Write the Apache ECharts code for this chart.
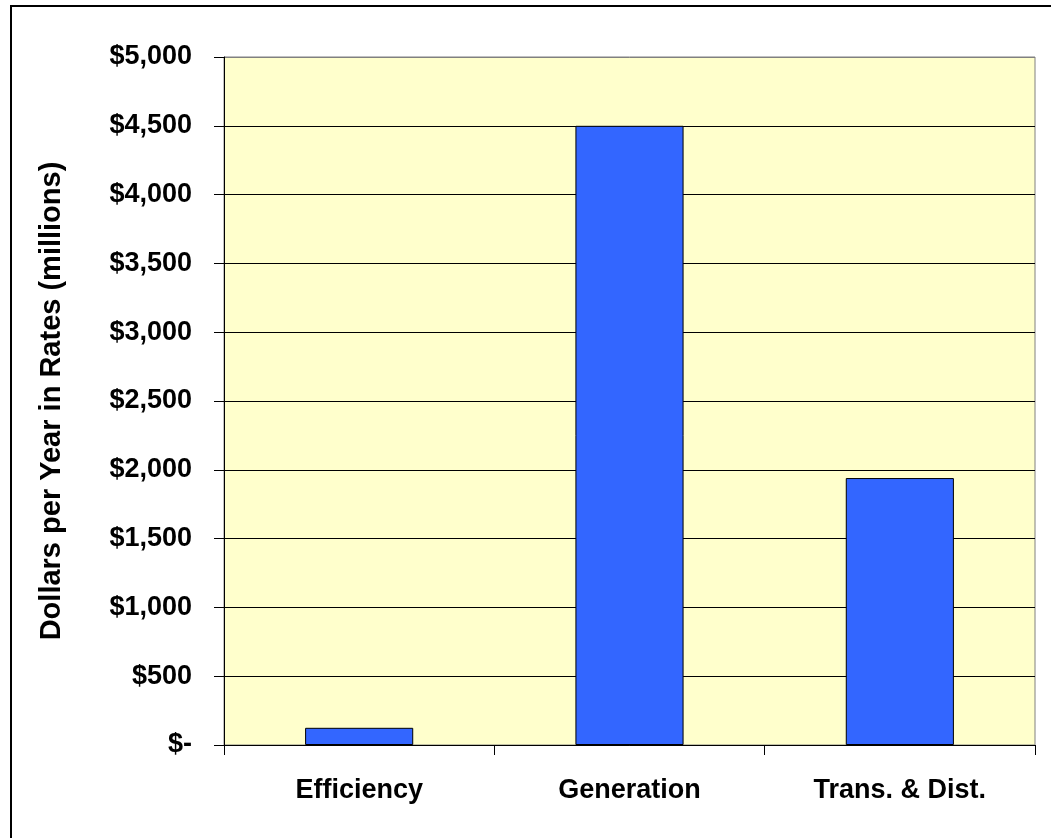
<!DOCTYPE html>
<html>
<head>
<meta charset="utf-8">
<script src="https://cdn.jsdelivr.net/npm/echarts@6/dist/echarts.min.js"></script>
<style>
  html, body { margin: 0; padding: 0; background: #ffffff; }
  #chart { width: 1051px; height: 838px; }
</style>
</head>
<body>
<div id="chart"></div>
<script>
// Annual rate dollars by spending area (millions)
const categories = ['Efficiency', 'Generation', 'Trans. & Dist.'];
const dollarsPerYear = [125, 4500, 1940];
const yAxisTitle = 'Dollars per Year in Rates (millions)';
const yMin = 0;
const yMax = 5000;
const yStep = 500;

const FONT = 'Arial, "Liberation Sans", sans-serif';

function moneyLabel(v) {
  if (v === 0) return '$-';
  return '$' + v.toLocaleString('en-US');
}

// Horizontal gridlines: black, with the top edge drawn in grey like the frame
const gridColors = [];
for (let v = yMin; v <= yMax; v += yStep) gridColors.push(v === yMax ? '#808080' : '#000000');

const chart = echarts.init(document.getElementById('chart'), null, { renderer: 'canvas' });

chart.setOption({
  backgroundColor: '#ffffff',
  animation: false,
  graphic: [{
    type: 'rect',
    z: -10,
    shape: { x: 11, y: 6, width: 1100, height: 900 },
    style: { fill: 'none', stroke: '#000000', lineWidth: 2 }
  }],
  grid: {
    left: 224, right: 16, top: 57, bottom: 93,
    show: true,
    backgroundColor: '#FFFFCC',
    borderColor: '#808080',
    borderWidth: 1,
    containLabel: false
  },
  xAxis: {
    type: 'category',
    data: categories,
    axisLine: { lineStyle: { color: '#000000', width: 1 } },
    axisTick: { show: true, inside: false, length: 10, alignWithLabel: false, lineStyle: { color: '#000000' } },
    axisLabel: {
      color: '#000000',
      fontFamily: FONT,
      fontWeight: 'bold',
      fontSize: 27,
      margin: 32
    },
    splitLine: { show: false }
  },
  yAxis: {
    type: 'value',
    min: yMin,
    max: yMax,
    interval: yStep,
    name: yAxisTitle,
    nameLocation: 'middle',
    nameGap: 158,
    nameRotate: 90,
    nameTextStyle: {
      color: '#000000',
      fontFamily: FONT,
      fontWeight: 'bold',
      fontSize: 29
    },
    axisLine: { show: true, lineStyle: { color: '#000000', width: 1 } },
    axisTick: { show: true, inside: false, length: 10, lineStyle: { color: '#000000' } },
    axisLabel: {
      color: '#000000',
      fontFamily: FONT,
      fontWeight: 'bold',
      fontSize: 27,
      margin: 32,
      formatter: moneyLabel
    },
    splitLine: { show: true, lineStyle: { color: gridColors, width: 1 } }
  },
  series: [{
    type: 'bar',
    data: dollarsPerYear,
    barCategoryGap: '60%',
    itemStyle: { color: '#3366FF', borderColor: '#000000', borderWidth: 1 }
  }]
});
</script>
</body>
</html>
